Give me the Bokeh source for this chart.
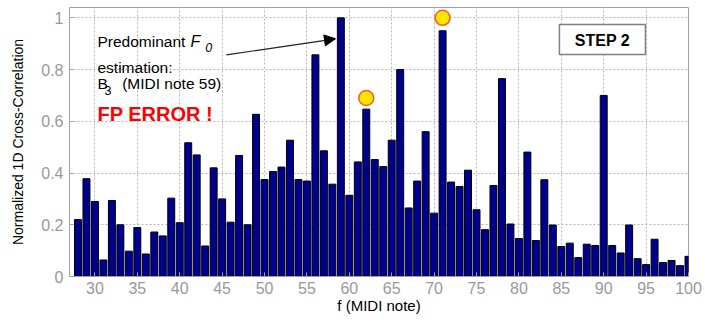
from bokeh.core.properties import value
from bokeh.embed import file_html
from bokeh.models import Arrow, FixedTicker, NormalHead, Range1d
from bokeh.plotting import figure
from bokeh.resources import INLINE

# MIDI notes and their normalized 1D cross-correlation
notes = list(range(28, 101))
correlation = [
    0.220, 0.378, 0.290, 0.064, 0.294, 0.200, 0.098, 0.189, 0.087, 0.172,  # 28-37
    0.157, 0.303, 0.208, 0.517, 0.470, 0.118, 0.420, 0.300, 0.210, 0.468,  # 38-47
    0.200, 0.627, 0.375, 0.406, 0.423, 0.527, 0.375, 0.369, 0.857, 0.486,  # 48-57
    0.357, 1.000, 0.314, 0.443, 0.647, 0.452, 0.425, 0.527, 0.800, 0.265,  # 58-67
    0.369, 0.560, 0.245, 0.950, 0.365, 0.348, 0.411, 0.258, 0.181, 0.352,  # 68-77
    0.765, 0.203, 0.147, 0.481, 0.139, 0.374, 0.199, 0.116, 0.129, 0.073,  # 78-87
    0.125, 0.120, 0.700, 0.120, 0.091, 0.199, 0.069, 0.046, 0.144, 0.054,  # 88-97
    0.062, 0.042, 0.078,                                                   # 98-100
]

# highlighted candidate notes (yellow dots)
marker_notes = [62, 71]
marker_levels = [0.69, 1.0]

x_ticks = list(range(30, 101, 5))
y_ticks = [0, 0.2, 0.4, 0.6, 0.8, 1]
y_tick_labels = ["0", "0.2", "0.4", "0.6", "0.8", "1"]

FONT = "Liberation Sans"
GRAY = "#a0a0a0"

p = figure(
    width=705, height=324,
    x_range=Range1d(27, 100), y_range=Range1d(0, 1.04),
    output_backend="svg", toolbar_location=None,
    min_border_left=69, min_border_right=17,
    min_border_top=7, min_border_bottom=48,
)
p.background_fill_color = "white"
p.border_fill_color = "white"
p.outline_line_color = GRAY
p.outline_line_width = 1

# axes
for ax in (p.xaxis[0], p.yaxis[0]):
    ax.axis_line_color = GRAY
    ax.major_tick_line_color = GRAY
    ax.major_tick_in = 4
    ax.major_tick_out = 0
    ax.minor_tick_line_color = None
    ax.major_label_text_font = FONT
    ax.major_label_text_font_size = "16px"
    ax.major_label_text_color = "#999999"
    ax.axis_label_text_font = FONT
    ax.axis_label_text_font_style = "normal"
    ax.axis_label_text_color = "black"

p.xaxis[0].ticker = FixedTicker(ticks=x_ticks)
p.xaxis[0].major_label_standoff = 5
p.xaxis[0].axis_label = "f (MIDI note)"
p.xaxis[0].axis_label_standoff = 0
p.xaxis[0].axis_label_text_font_size = "15px"

p.yaxis[0].ticker = FixedTicker(ticks=y_ticks)
p.yaxis[0].major_label_overrides = {t: s for t, s in zip(y_ticks, y_tick_labels)}
p.yaxis[0].major_label_standoff = 6
p.yaxis[0].axis_label = "Normalized 1D Cross-Correlation"
p.yaxis[0].axis_label_standoff = 12
p.yaxis[0].axis_label_text_font_size = "14px"

# dotted grid
for g in (p.xgrid[0], p.ygrid[0]):
    g.grid_line_color = "#b4b4b4"
    g.grid_line_dash = "2 2"
    g.grid_line_width = 1

# bars
p.vbar(x=notes, top=correlation, width=0.82, bottom=0,
       fill_color="#00008f", line_color="black", line_width=1)

# candidate markers
p.scatter(x=marker_notes, y=marker_levels, size=15, marker="circle",
          fill_color="#ffe600", line_color="#ff5a1f", line_width=1.5)

# annotation text
p.text(x=[30.30], y=[0.908], text=["Predominant"], text_font=value(FONT),
       text_font_size="15.5px", text_baseline="alphabetic", text_color="black")
p.text(x=[41.27], y=[0.908], text=["F"], text_font=value(FONT),
       text_font_style="italic", text_font_size="16px",
       text_baseline="alphabetic", text_color="black")
p.text(x=[43.0], y=[0.884], text=["0"], text_font=value(FONT),
       text_font_style="italic", text_font_size="12.5px",
       text_baseline="alphabetic", text_color="black")
p.text(x=[30.30], y=[0.809], text=["estimation:"], text_font=value(FONT),
       text_font_size="15.5px", text_baseline="alphabetic", text_color="black")
p.text(x=[30.30], y=[0.745], text=["B"], text_font=value(FONT),
       text_font_size="15.5px", text_baseline="alphabetic", text_color="black")
p.text(x=[31.13], y=[0.719], text=["3"], text_font=value(FONT),
       text_font_size="12.5px", text_baseline="alphabetic", text_color="black")
p.text(x=[33.21], y=[0.745], text=["(MIDI note 59)"], text_font=value(FONT),
       text_font_size="15.5px", text_baseline="alphabetic", text_color="black")
p.text(x=[30.30], y=[0.629], text=["FP ERROR !"], text_font=value(FONT),
       text_font_style="bold", text_font_size="20px",
       text_baseline="alphabetic", text_color="#ff0000")

# arrow pointing at the predominant peak
p.add_layout(Arrow(
    end=NormalHead(size=11, fill_color="black", line_color="black"),
    x_start=45.51, y_start=0.857, x_end=58.37, y_end=0.919,
    line_color="#202020", line_width=1.2,
))

# step box
p.quad(left=[84.78], right=[94.92], bottom=[0.858], top=[0.974],
       fill_color="white", line_color="#808080", line_width=1.5)
p.text(x=[89.85], y=[0.914], text=["STEP 2"], text_font=value(FONT),
       text_font_style="bold", text_font_size="16px",
       text_align="center", text_baseline="middle", text_color="black")

open("out.html", "w").write(file_html(p, INLINE))
